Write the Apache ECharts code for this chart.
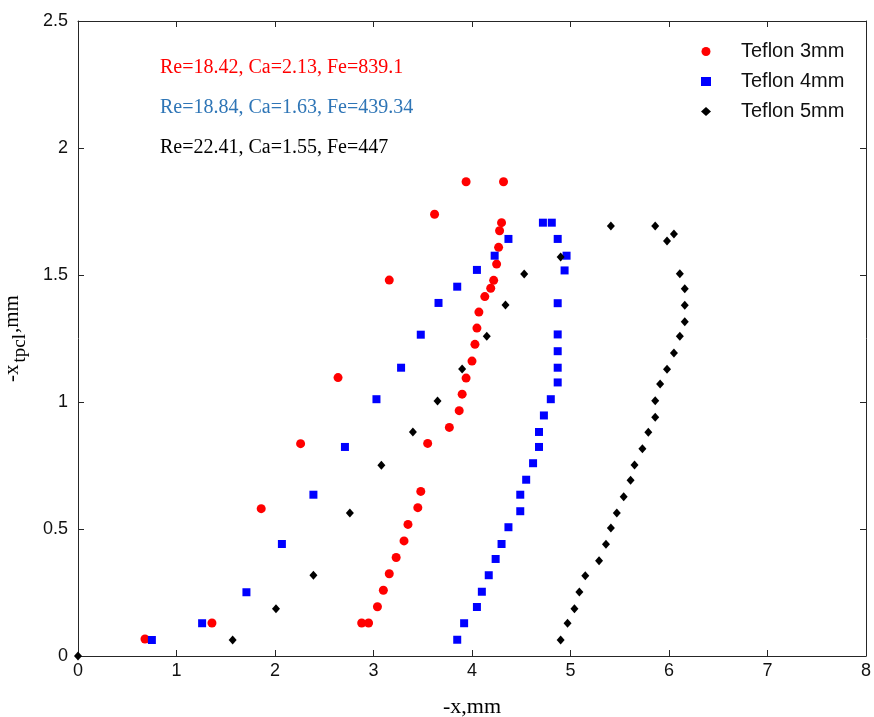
<!DOCTYPE html>
<html>
<head>
<meta charset="utf-8">
<script src="https://cdn.jsdelivr.net/npm/echarts@6/dist/echarts.min.js"></script>
<style>
  html, body { margin: 0; padding: 0; background: #fff; }
  #main { width: 874px; height: 717px; }
</style>
</head>
<body>
<div id="main"></div>
<script>
// 数据 (x = -x mm, y = -x_tpcl mm)
var teflon3 = [
    [0.68,0.067],[1.36,0.13],[1.86,0.58],[2.26,0.836],[2.64,1.096],[3.16,1.48],[3.62,1.739],[3.94,1.867],
    [2.88,0.13],[2.95,0.13],[3.04,0.194],[3.10,0.259],[3.16,0.324],[3.23,0.388],[3.31,0.453],[3.35,0.518],
    [3.45,0.584],[3.48,0.648],[3.55,0.837],[3.77,0.90],[3.87,0.966],[3.90,1.031],[3.94,1.094],[4.00,1.161],
    [4.03,1.227],[4.05,1.291],[4.07,1.354],[4.13,1.415],[4.19,1.448],[4.22,1.479],[4.25,1.543],[4.27,1.609],
    [4.28,1.674],[4.30,1.706],[4.32,1.867]
];
var teflon4 = [
    [0.75,0.063],[1.26,0.129],[1.71,0.251],[2.07,0.441],[2.39,0.635],[2.71,0.823],[3.03,1.011],[3.28,1.135],
    [3.48,1.265],[3.66,1.39],[3.85,1.454],[4.05,1.52],[4.23,1.576],[4.37,1.642],[4.72,1.706],[4.81,1.706],
    [4.87,1.642],[4.96,1.576],[4.94,1.518],[4.87,1.389],[4.87,1.266],[4.87,1.2],[4.87,1.135],[4.87,1.077],
    [4.80,1.011],[4.73,0.947],[4.68,0.882],[4.68,0.823],[4.62,0.759],[4.55,0.694],[4.49,0.635],[4.49,0.57],
    [4.37,0.507],[4.30,0.441],[4.24,0.382],[4.17,0.318],[4.10,0.253],[4.05,0.193],[3.92,0.129],[3.85,0.064]
];
var teflon5 = [
    [0,0],[1.57,0.063],[2.01,0.186],[2.39,0.318],[2.76,0.563],[3.08,0.751],[3.40,0.882],[3.65,1.004],
    [3.90,1.13],[4.15,1.259],[4.34,1.382],[4.53,1.504],[4.90,1.571],[5.41,1.693],[5.86,1.693],[6.05,1.661],
    [5.98,1.634],[6.11,1.505],[6.16,1.446],[6.16,1.381],[6.16,1.316],[6.11,1.259],[6.05,1.193],[5.98,1.129],
    [5.91,1.071],[5.86,1.005],[5.86,0.94],[5.79,0.881],[5.73,0.816],[5.65,0.752],[5.61,0.692],[5.54,0.627],
    [5.47,0.563],[5.41,0.504],[5.36,0.44],[5.29,0.375],[5.15,0.316],[5.09,0.252],[5.04,0.186],[4.97,0.129],
    [4.90,0.063]
];
var seriesNames = ['Teflon 3mm', 'Teflon 4mm', 'Teflon 5mm'];
var notes = ['Re=18.42, Ca=2.13, Fe=839.1', 'Re=18.84, Ca=1.63, Fe=439.34', 'Re=22.41, Ca=1.55, Fe=447'];
var noteColors = ['#ff0000', '#2e75b6', '#000000'];

var myChart = echarts.init(document.getElementById('main'));

var axisColor = '#262626';
var tickFont = '"Liberation Sans", sans-serif';

function sideAxis(pos, min, max, interval) {
    return {
        type: 'value', position: pos, min: min, max: max, interval: interval,
        axisLine: { show: true, onZero: false, lineStyle: { color: axisColor, width: 1 } },
        axisTick: { show: true, inside: true, length: 6, lineStyle: { color: axisColor } },
        axisLabel: { show: false },
        splitLine: { show: false }
    };
}

var graphics = [];
for (var i = 0; i < notes.length; i++) {
    graphics.push({
        type: 'text', left: 160, top: 58 + i * 40,
        style: { text: notes[i], fill: noteColors[i], font: '20px "Liberation Serif"' }
    });
}

var option = {
    backgroundColor: '#fff',
    animation: false,
    grid: { left: 78, right: 8, top: 21, bottom: 61, containLabel: false, outerBoundsMode: 'none' },
    legend: {
        orient: 'vertical',
        left: 696, top: 36,
        itemWidth: 10, itemHeight: 9, itemGap: 9,
        data: seriesNames,
        textStyle: { fontFamily: tickFont, fontSize: 20, lineHeight: 21, color: '#111', padding: [0, 0, 0, 25] }
    },
    graphic: graphics,
    xAxis: [{
        type: 'value', min: 0, max: 8, interval: 1,
        name: '-x,mm', nameLocation: 'middle', nameGap: 40,
        nameTextStyle: { fontFamily: 'Liberation Serif', fontSize: 22, color: '#000' },
        axisLine: { show: true, onZero: false, lineStyle: { color: axisColor, width: 1 } },
        axisTick: { show: true, inside: true, length: 6, lineStyle: { color: axisColor } },
        axisLabel: { fontFamily: tickFont, fontSize: 18, color: '#111', margin: 6 },
        splitLine: { show: false }
    }, sideAxis('top', 0, 8, 1)],
    yAxis: [{
        type: 'value', min: 0, max: 2.5, interval: 0.5,
        name: '{a|-x}{s|tpcl}{a|,mm}', nameLocation: 'middle', nameGap: 48,
        nameTextStyle: {
            rich: {
                a: { fontFamily: 'Liberation Serif', fontSize: 21, color: '#000', verticalAlign: 'top' },
                s: { fontFamily: 'Liberation Serif', fontSize: 19, color: '#000', verticalAlign: 'bottom', padding: [9, 1, 0, 2] }
            }
        },
        axisLine: { show: true, onZero: false, lineStyle: { color: axisColor, width: 1 } },
        axisTick: { show: true, inside: true, length: 6, lineStyle: { color: axisColor } },
        axisLabel: { fontFamily: tickFont, fontSize: 18, color: '#111', margin: 10 },
        splitLine: { show: false }
    }, sideAxis('right', 0, 2.5, 0.5)],
    series: [{
        name: seriesNames[0], type: 'scatter', data: teflon3,
        symbol: 'circle', symbolSize: 9,
        itemStyle: { color: '#ff0000', opacity: 1 }
    }, {
        name: seriesNames[1], type: 'scatter', data: teflon4,
        symbol: 'rect', symbolSize: 8,
        itemStyle: { color: '#0000ff', opacity: 1 }
    }, {
        name: seriesNames[2], type: 'scatter', data: teflon5,
        symbol: 'diamond', symbolSize: [8, 9], clip: false,
        itemStyle: { color: '#000000', opacity: 1 }
    }]
};

myChart.setOption(option);
</script>
</body>
</html>
